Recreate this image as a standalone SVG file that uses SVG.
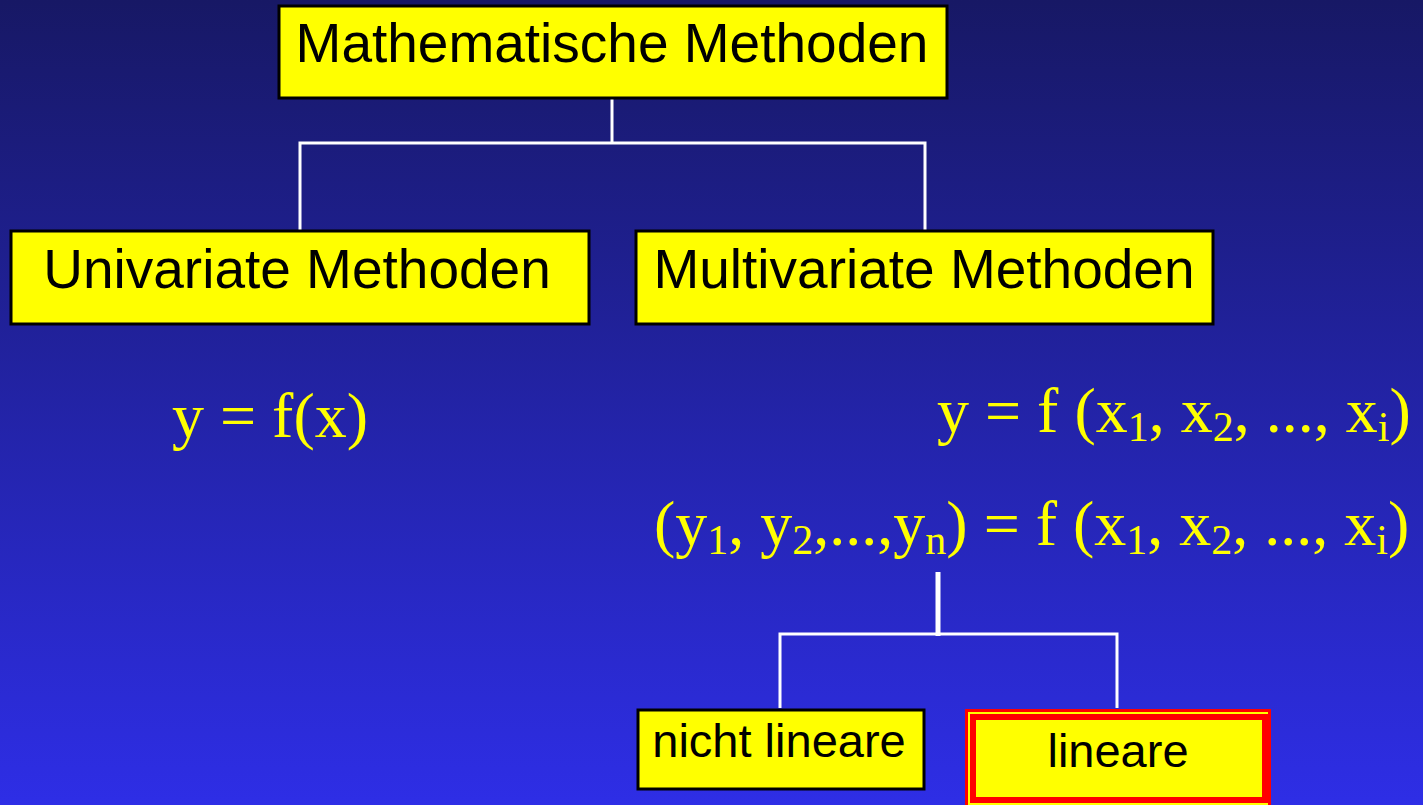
<svg xmlns="http://www.w3.org/2000/svg" width="1423" height="805" viewBox="0 0 1423 805">
<defs>
<linearGradient id="bg" x1="0" y1="0" x2="0" y2="1">
<stop offset="0" stop-color="#171865"/>
<stop offset="1" stop-color="#2e2ee6"/>
</linearGradient>
</defs>
<style>
.box{fill:#ffff00;stroke:#000;stroke-width:3}
.lbl{font-family:"Liberation Sans",Arial,sans-serif;fill:#000;text-anchor:middle}
.big{font-size:55px}
.small{font-size:47px}
.math{font-family:"Liberation Serif","Times New Roman",serif;font-size:64px;fill:#ffff00}
.sub{font-size:42px}
.conn{stroke:#fff;stroke-width:3;fill:none}
</style>
<rect x="0" y="0" width="1423" height="805" fill="url(#bg)"/>
<g id="connectors">
<polyline class="conn" points="612,99 612,143"/>
<polyline class="conn" points="300,230 300,143 925,143 925,230"/>
<line x1="938" y1="572" x2="938" y2="636" stroke="#fff" stroke-width="5"/>
<polyline class="conn" points="780,708 780,634 1117,634 1117,708"/>
</g>
<g id="node-mathematische">
<rect class="box" x="279" y="6" width="668" height="92"/>
<text class="lbl big" x="612" y="62">Mathematische Methoden</text>
</g>
<g id="node-univariate">
<rect class="box" x="11" y="231" width="578" height="93"/>
<text class="lbl big" x="297" y="288">Univariate Methoden</text>
</g>
<g id="node-multivariate">
<rect class="box" x="636" y="231" width="577" height="93"/>
<text class="lbl big" x="924" y="288">Multivariate Methoden</text>
</g>
<g id="formula-univariate">
<text class="math" x="172" y="437">y = f(x)</text>
</g>
<g id="formula-multivariate">
<text class="math" x="937" y="432">y = f (x<tspan class="sub" dy="9">1</tspan><tspan dy="-9">, x</tspan><tspan class="sub" dy="9">2</tspan><tspan dy="-9">, ..., x</tspan><tspan class="sub" dy="9">i</tspan><tspan dy="-9">)</tspan></text>
<text class="math" x="654" y="545">(y<tspan class="sub" dy="9">1</tspan><tspan dy="-9">, y</tspan><tspan class="sub" dy="9">2</tspan><tspan dy="-9">,...,y</tspan><tspan class="sub" dy="9">n</tspan><tspan dy="-9">) = f (x</tspan><tspan class="sub" dy="9">1</tspan><tspan dy="-9">, x</tspan><tspan class="sub" dy="9">2</tspan><tspan dy="-9">, ..., x</tspan><tspan class="sub" dy="9">i</tspan><tspan dy="-9">)</tspan></text>
</g>
<g id="node-nicht-lineare">
<rect class="box" x="638" y="710" width="286" height="79"/>
<text class="lbl small" x="779" y="757">nicht lineare</text>
</g>
<g id="node-lineare">
<rect x="966.5" y="710.5" width="303" height="98" fill="#ffff00" stroke="#ff0000" stroke-width="3"/>
<rect x="973" y="717" width="292" height="83" fill="#ffff00" stroke="#ff0000" stroke-width="6"/>
<text class="lbl small" x="1118" y="767">lineare</text>
</g>
</svg>
